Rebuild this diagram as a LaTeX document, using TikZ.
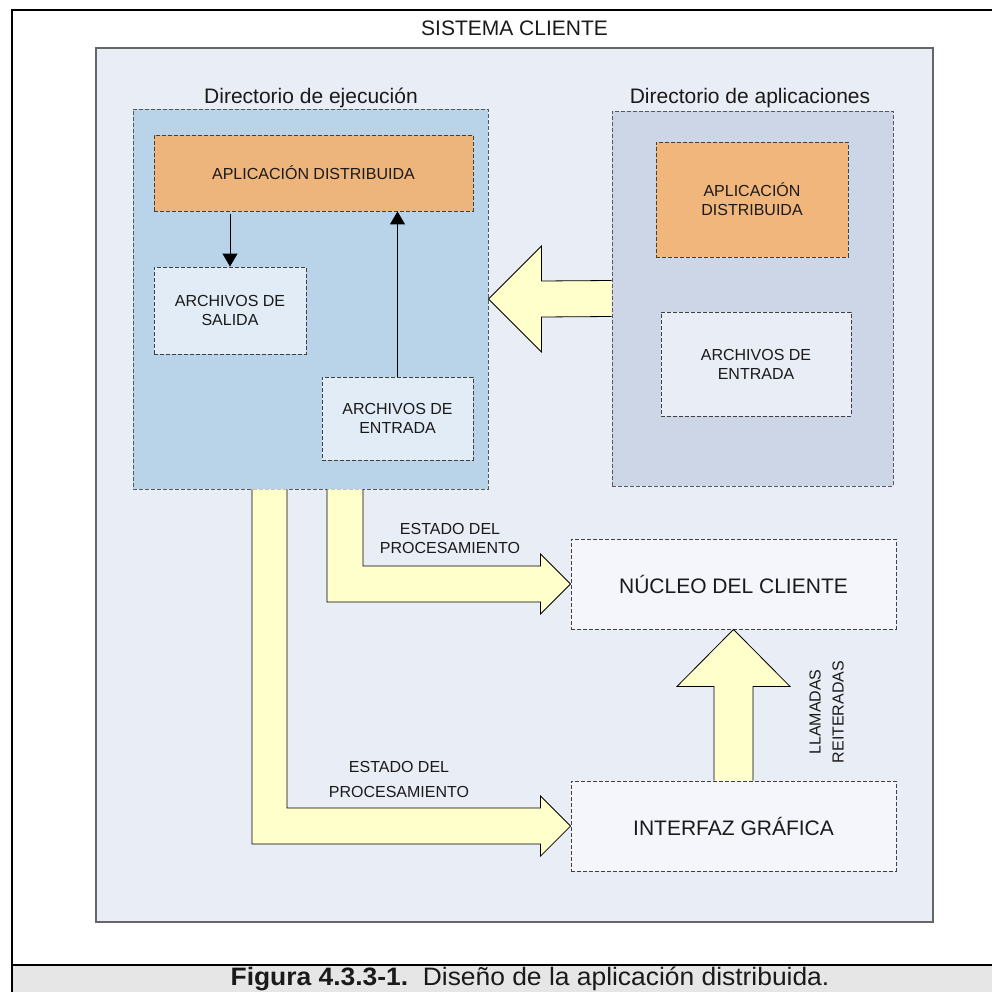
\documentclass[tikz,border=0pt]{standalone}
\usepackage{fontspec}
\setmainfont{Liberation Sans}
\usetikzlibrary{arrows.meta,calc}
\newcommand\myfs[2]{\fontsize{#1}{#2}\selectfont}
\definecolor{sysfill}{HTML}{E9EDF6}
\definecolor{execfill}{HTML}{B9D3E8}
\definecolor{orangeA}{HTML}{EDB47C}
\definecolor{orangeB}{HTML}{F1B67C}
\definecolor{filefill}{HTML}{E2ECF6}
\definecolor{appdirfill}{HTML}{CCD6E6}
\definecolor{corefill}{HTML}{F4F6FB}
\definecolor{arrowfill}{HTML}{FFFFCC}
\definecolor{capfill}{HTML}{E6E6E6}
\definecolor{txt}{HTML}{1A1A1A}
\begin{document}
\begin{tikzpicture}[x=1pt,y=-1pt,
  every node/.style={text=txt},
  dbox/.style={draw=black!75, dash pattern=on 4pt off 2pt, line width=0.9pt,
    inner sep=0pt, align=center, font=\myfs{16}{19}},
  bigtext/.style={font=\myfs{21}{25}},
  blockarrow/.style={fill=arrowfill},
  blockedge/.style={draw=black, line width=0.8pt, line join=miter},
  thin arrow/.style={draw=black, line width=1pt, -{Triangle[length=13pt,width=15pt]}},
  lbl/.style={align=center, font=\myfs{16}{19}, inner sep=0pt}
]
\useasboundingbox (0,0) rectangle (992,992);

% outer frame and caption band
\fill[capfill] (12,965) rectangle (1060,1010);
\draw[line width=2pt] (12,1010) -- (12,10) -- (1060,10);
\draw[line width=2pt] (12,965) -- (1060,965);
\node[anchor=base, inner sep=0pt, xscale=1.1, yscale=1.05, font=\myfs{24}{28}] (cap) at (530,985.5)
  {\textbf{Figura 4.3.3-1.}\ \ Diseño de la aplicación distribuida.};

% system box
\node[draw=black!60, fill=sysfill, line width=1.3pt, minimum width=837pt, minimum height=874pt, inner sep=0pt] (sys) at (514.5,485) {};
\node[bigtext, anchor=base, inner sep=0pt] (systitle) at (514.5,36) {SISTEMA CLIENTE};

% execution directory
\node[dbox, draw=black!65, fill=execfill, minimum width=355pt, minimum height=380pt] (exec) at (310.5,299) {};
\node[bigtext, anchor=base, inner sep=0pt] (exectitle) at (311,104) {Directorio de ejecución};
\node[dbox, fill=orangeA, minimum width=319pt, minimum height=76pt] (app1) at (313.5,173) {APLICACIÓN DISTRIBUIDA};
\node[dbox, fill=filefill, minimum width=152pt, minimum height=87pt] (sal) at (230,310.5) {ARCHIVOS DE\\SALIDA};
\node[dbox, fill=filefill, minimum width=151pt, minimum height=83pt] (ent1) at (397.5,418.5) {ARCHIVOS DE\\ENTRADA};

% application directory
\node[dbox, draw=black!65, fill=appdirfill, minimum width=281pt, minimum height=375pt] (appdir) at (752.5,298.5) {};
\node[bigtext, anchor=base, inner sep=0pt] (appdirtitle) at (750,104) {Directorio de aplicaciones};
\node[dbox, fill=orangeB, minimum width=192pt, minimum height=115pt] (app2) at (752,199.5) {APLICACIÓN\\DISTRIBUIDA};
\node[dbox, fill=sysfill, minimum width=190pt, minimum height=104pt] (ent2) at (756,364) {ARCHIVOS DE\\ENTRADA};

% core and GUI
\node[dbox, fill=corefill, minimum width=325pt, minimum height=90pt, font=\myfs{21}{25}] (nuc) at (733.5,584) {NÚCLEO DEL CLIENTE};
\node[dbox, fill=corefill, minimum width=325pt, minimum height=90pt, font=\myfs{21}{25}] (gui) at (733.5,826) {INTERFAZ GRÁFICA};

% thin arrows inside execution directory
\draw[thin arrow] ($(app1.south -| sal.north)+(0,3)$) -- (sal.north);
\draw[thin arrow] (ent1.north) -- (ent1.north |- app1.south);

% big arrow: application directory -> execution directory
\coordinate (bA) at (appdir.west);
\coordinate (bT) at (exec.east);
\fill[blockarrow] ($(bA)+(0,-18)$) -- ($(bT)+(53,-18)$) -- ($(bT)+(53,-53)$) -- (bT)
  -- ($(bT)+(53,53)$) -- ($(bT)+(53,18)$) -- ($(bA)+(0,18)$) -- cycle;
\draw[blockedge] ($(bA)+(0,-18)$) -- ($(bT)+(53,-18)$) -- ($(bT)+(53,-53)$) -- (bT)
  -- ($(bT)+(53,53)$) -- ($(bT)+(53,18)$) -- ($(bA)+(0,18)$);

% L arrow: execution directory -> core
\coordinate (u1) at ($(exec.south)+(34.5,0)$);
\coordinate (t1) at (nuc.west);
\fill[blockarrow] ($(u1)+(-18,0)$) -- ($(u1 |- t1)+(-18,18)$) -- ($(t1)+(-30,18)$) -- ($(t1)+(-30,30)$) -- (t1)
  -- ($(t1)+(-30,-30)$) -- ($(t1)+(-30,-18)$) -- ($(u1 |- t1)+(18,-18)$) -- ($(u1)+(18,0)$) -- cycle;
\draw[blockedge] ($(u1)+(-18,0)$) -- ($(u1 |- t1)+(-18,18)$) -- ($(t1)+(-30,18)$) -- ($(t1)+(-30,30)$) -- (t1)
  -- ($(t1)+(-30,-30)$) -- ($(t1)+(-30,-18)$) -- ($(u1 |- t1)+(18,-18)$) -- ($(u1)+(18,0)$);

% L arrow: execution directory -> GUI
\coordinate (u2) at ($(exec.south)+(-41,0)$);
\coordinate (t2) at (gui.west);
\fill[blockarrow] ($(u2)+(-17.5,0)$) -- ($(u2 |- t2)+(-17.5,18)$) -- ($(t2)+(-30,18)$) -- ($(t2)+(-30,30)$) -- (t2)
  -- ($(t2)+(-30,-30)$) -- ($(t2)+(-30,-18)$) -- ($(u2 |- t2)+(17.5,-18)$) -- ($(u2)+(17.5,0)$) -- cycle;
\draw[blockedge] ($(u2)+(-17.5,0)$) -- ($(u2 |- t2)+(-17.5,18)$) -- ($(t2)+(-30,18)$) -- ($(t2)+(-30,30)$) -- (t2)
  -- ($(t2)+(-30,-30)$) -- ($(t2)+(-30,-18)$) -- ($(u2 |- t2)+(17.5,-18)$) -- ($(u2)+(17.5,0)$);

% up arrow: GUI -> core
\coordinate (gA) at (gui.north);
\coordinate (gT) at (nuc.south);
\fill[blockarrow] ($(gA)+(-19.5,0)$) -- ($(gT)+(-19.5,57)$) -- ($(gT)+(-56.5,57)$) -- (gT)
  -- ($(gT)+(56.5,57)$) -- ($(gT)+(19.5,57)$) -- ($(gA)+(19.5,0)$) -- cycle;
\draw[blockedge] ($(gA)+(-19.5,0)$) -- ($(gT)+(-19.5,57)$) -- ($(gT)+(-56.5,57)$) -- (gT)
  -- ($(gT)+(56.5,57)$) -- ($(gT)+(19.5,57)$) -- ($(gA)+(19.5,0)$);

% labels
\node[lbl] (lab1) at (450,538.5) {ESTADO DEL\\PROCESAMIENTO};
\node[lbl, font=\myfs{16}{25}] (lab2) at (399,779.5) {ESTADO DEL\\PROCESAMIENTO};
\node[lbl, font=\myfs{16}{23}, rotate=90] (lab3) at (826.5,712) {LLAMADAS\\REITERADAS};
\end{tikzpicture}
\end{document}
